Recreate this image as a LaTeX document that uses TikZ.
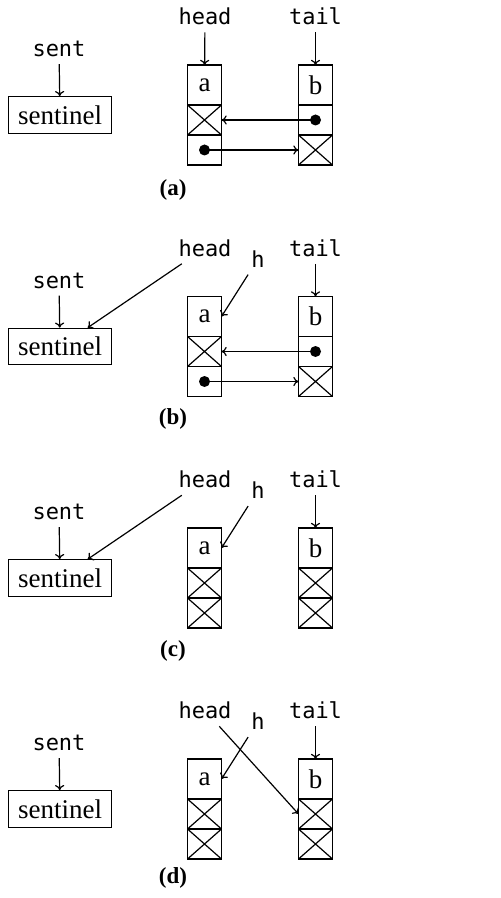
\documentclass[tikz,border=0pt]{standalone}
\usepackage{fontspec}
\setmainfont{Liberation Serif}
\setmonofont{DejaVu Sans Mono}
\usetikzlibrary{arrows.meta}

\tikzset{
  every path/.style={line width=0.6pt},
  ptr/.style={-{To[length=2.6pt,width=4.6pt]}},
  lbl/.style={font=\fontsize{11}{13}\selectfont\ttfamily},
  sentbox/.style={draw, minimum width=51.8pt, minimum height=18.2pt, inner sep=0pt,
    font=\fontsize{13.5}{15}\selectfont},
  cell/.style={draw, minimum width=17pt, inner sep=0pt, outer sep=0pt,
    font=\fontsize{13.5}{15}\selectfont},
  valcell/.style={cell, minimum height=20pt},
  ptrcell/.style={cell, minimum height=15pt, anchor=north},
  nilcell/.style={ptrcell, path picture={
    \draw (path picture bounding box.north west) -- (path picture bounding box.south east)
          (path picture bounding box.south west) -- (path picture bounding box.north east);}},
  dot/.style={fill, circle, inner sep=0pt, minimum size=5.5pt},
  caption/.style={font=\fontsize{11.5}{13}\selectfont\bfseries},
}

\begin{document}
\begin{tikzpicture}[x=0.5pt, y=-0.5pt]
\useasboundingbox (0,0) rectangle (501,898);

% ---------------- (a) ----------------
\node[lbl] (sentA) at (59,49) {sent};
\node[sentbox] (sA) at (60,115) {sentinel};
\draw[ptr] (sentA) -- (sA);
\node[valcell] (aA1) at (204.5,85) {a};
\node[nilcell] (aA2) at (aA1.south) {};
\node[ptrcell] (aA3) at (aA2.south) {};
\node[valcell] (bA1) at (315.5,85) {b};
\node[ptrcell] (bA2) at (bA1.south) {};
\node[nilcell] (bA3) at (bA2.south) {};
\node[dot] (dA1) at (bA2.center) {};
\node[dot] (dA2) at (aA3.center) {};
\draw[ptr] (dA1.center) -- (aA2.east);
\draw[ptr] (dA2.center) -- (bA3.west);
\node[lbl] (headA) at (205,16.5) {head};
\node[lbl] (tailA) at (315.5,16.5) {tail};
\draw[ptr] (headA) -- (aA1);
\draw[ptr] (tailA) -- (bA1);
\node[caption] (capA) at (173,190) {(a)};

% ---------------- (b) ----------------
\node[lbl] (sentB) at (59,280.5) {sent};
\node[sentbox] (sB) at (60,346.5) {sentinel};
\draw[ptr] (sentB) -- (sB);
\node[valcell] (aB1) at (204.5,316.5) {a};
\node[nilcell] (aB2) at (aB1.south) {};
\node[ptrcell] (aB3) at (aB2.south) {};
\node[valcell] (bB1) at (315.5,316.5) {b};
\node[ptrcell] (bB2) at (bB1.south) {};
\node[nilcell] (bB3) at (bB2.south) {};
\node[dot] (dB1) at (bB2.center) {};
\node[dot] (dB2) at (aB3.center) {};
\draw[ptr] (dB1.center) -- (aB2.east);
\draw[ptr] (dB2.center) -- (bB3.west);
\node[lbl] (headB) at (205,248) {head};
\node[lbl] (hB) at (258,259) {h};
\node[lbl] (tailB) at (315.5,248) {tail};
\draw[ptr] (headB) -- (sB);
\draw[ptr] (hB) -- (aB1.east);
\draw[ptr] (tailB) -- (bB1);
\node[caption] (capB) at (173,419) {(b)};

% ---------------- (c) ----------------
\node[lbl] (sentC) at (59,512) {sent};
\node[sentbox] (sC) at (60,578) {sentinel};
\draw[ptr] (sentC) -- (sC);
\node[valcell] (aC1) at (204.5,548) {a};
\node[nilcell] (aC2) at (aC1.south) {};
\node[nilcell] (aC3) at (aC2.south) {};
\node[valcell] (bC1) at (315.5,548) {b};
\node[nilcell] (bC2) at (bC1.south) {};
\node[nilcell] (bC3) at (bC2.south) {};
\node[lbl] (headC) at (205,479.5) {head};
\node[lbl] (hC) at (258,490.5) {h};
\node[lbl] (tailC) at (315.5,479.5) {tail};
\draw[ptr] (headC) -- (sC);
\draw[ptr] (hC) -- (aC1.east);
\draw[ptr] (tailC) -- (bC1);
\node[caption] (capC) at (173,651) {(c)};

% ---------------- (d) ----------------
\node[lbl] (sentD) at (59,743) {sent};
\node[sentbox] (sD) at (60,809) {sentinel};
\draw[ptr] (sentD) -- (sD);
\node[valcell] (aD1) at (204.5,779) {a};
\node[nilcell] (aD2) at (aD1.south) {};
\node[nilcell] (aD3) at (aD2.south) {};
\node[valcell] (bD1) at (315.5,779) {b};
\node[nilcell] (bD2) at (bD1.south) {};
\node[nilcell] (bD3) at (bD2.south) {};
\node[lbl] (headD) at (205,710.5) {head};
\node[lbl] (hD) at (258,721.5) {h};
\node[lbl] (tailD) at (315.5,710.5) {tail};
\draw[ptr] (headD) -- (bD2.west);
\draw[ptr] (hD) -- (aD1.east);
\draw[ptr] (tailD) -- (bD1);
\node[caption] (capD) at (173,878) {(d)};
\end{tikzpicture}
\end{document}
